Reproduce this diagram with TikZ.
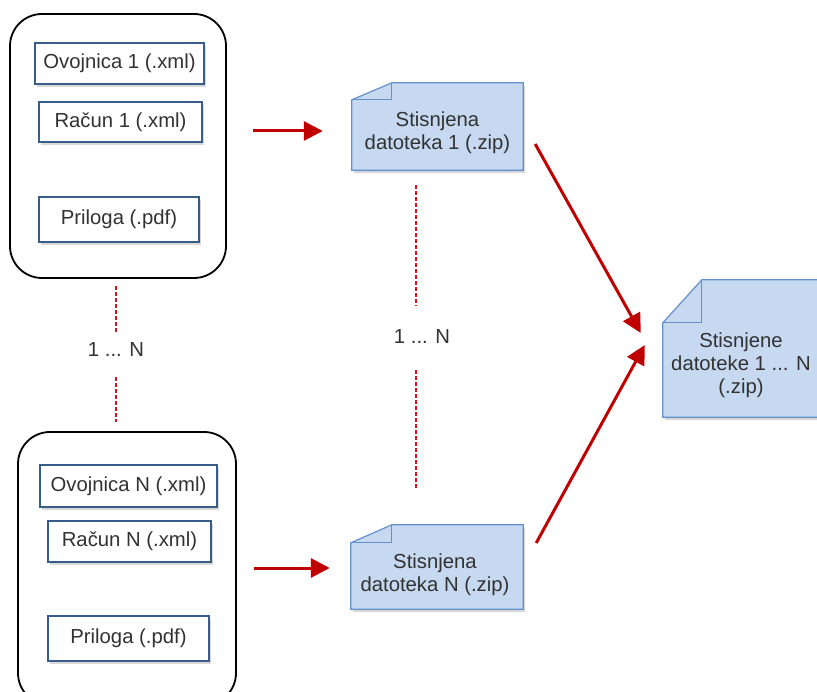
\documentclass[tikz,border=0pt]{standalone}
\usepackage{fontspec}
\setmainfont{Liberation Sans}
\usetikzlibrary{shadows,arrows.meta,calc}
\definecolor{txt}{RGB}{50,50,50}
\definecolor{boxblue}{RGB}{56,93,138}
\definecolor{docfill}{RGB}{198,217,240}
\definecolor{docline}{RGB}{100,145,205}
\definecolor{arrred}{RGB}{192,0,0}
\definecolor{dashred}{RGB}{215,20,30}
\begin{document}
\begin{tikzpicture}[x=1pt,y=-1pt, font=\fontsize{20.3}{23}\selectfont, text=txt,
 container/.style={draw=black, line width=1.8pt, rounded corners=32pt, fill=white, inner sep=0pt},
 filebox/.style={draw=boxblue, line width=1.3pt, fill=white, drop shadow={opacity=0.3, shadow xshift=2pt, shadow yshift=-3pt}, inner sep=0pt},
 docarea/.style={inner sep=0pt},
 doctext/.style={align=center, inner sep=0pt},
 docshape/.style={draw=docline, line width=1.2pt, fill=docfill, drop shadow={opacity=0.3, shadow xshift=2pt, shadow yshift=-3pt}},
 foldline/.style={draw=docline, line width=1.2pt},
 arr/.style={draw=arrred, line width=3pt, -{Triangle[length=19pt,width=19pt]}},
 dashline/.style={draw=dashred, line width=1.7pt, dash pattern=on 4pt off 2pt},
 lbl/.style={inner sep=0pt},
]
\useasboundingbox (0,0) rectangle (817,692);
\fill[white] (0,0) rectangle (817,692);

% containers
\node[container, minimum width=216pt, minimum height=264pt] (c1) at (118,146) {};
\node[container, minimum width=218pt, minimum height=273pt] (cN) at (127,568.5) {};

% file boxes
\node[filebox, minimum width=169pt, minimum height=41pt] (o1) at (119.5,63.5) {Ovojnica 1 (.xml)};
\node[filebox, minimum width=163pt, minimum height=40pt] (r1) at (120.5,122) {Račun 1 (.xml)};
\node[filebox, minimum width=160pt, minimum height=45pt] (p1) at (119,219.5) {Priloga (.pdf)};
\node[filebox, minimum width=177pt, minimum height=42pt] (oN) at (128.5,486) {Ovojnica N (.xml)};
\node[filebox, minimum width=163pt, minimum height=41pt] (rN) at (129.5,541.5) {Račun N (.xml)};
\node[filebox, minimum width=161pt, minimum height=45pt] (pN) at (128.5,638.5) {Priloga (.pdf)};

% documents
\newcommand\mydoc[3]{%
 \path[docshape] ([xshift=#2]#1.north west) -- (#1.north east) -- (#1.south east) -- (#1.south west) -- ([yshift=-#3]#1.north west) -- cycle;
 \draw[foldline] ([xshift=#2]#1.north west) -- ([xshift=#2,yshift=-#3]#1.north west) -- ([yshift=-#3]#1.north west);
}
\node[docarea, minimum width=171pt, minimum height=87pt] (z1) at (437.5,126.5) {};
\node[docarea, minimum width=172pt, minimum height=84pt] (zN) at (437,567) {};
\node[docarea, minimum width=162pt, minimum height=137pt] (f) at (744,348.5) {};
\mydoc{z1}{40pt}{17pt}
\mydoc{zN}{41pt}{18pt}
\mydoc{f}{39pt}{43pt}
\node[doctext] (z1t) at (437.5,133) {Stisnjena\\datoteka 1 (.zip)};
\node[doctext] (zNt) at (435,575) {Stisnjena\\datoteka N (.zip)};
\node[doctext] (ft) at (741,365) {Stisnjene\\datoteke 1 ... N\\(.zip)};

% labels
\node[lbl] (l1) at (116,350) {1 ... N};
\node[lbl] (l2) at (422,337) {1 ... N};

% dashed links
\draw[dashline, shorten <=7pt, shorten >=18pt] (c1.south -| l1) -- (l1.center);
\draw[dashline, shorten <=27pt, shorten >=9pt] (l1.center) -- (l1 |- cN.north);
\draw[dashline, shorten <=15pt, shorten >=31pt] ([xshift=-21.5pt]z1.south) -- ([xshift=-21.5pt]z1.south |- l2);
\draw[dashline, shorten <=33pt, shorten >=35pt] ([xshift=-21.5pt]z1.south |- l2) -- ([xshift=-21.5pt]z1.south |- zN.north);

% arrows
\draw[arr] ([shift={(26pt,15pt)}]c1.east) -- ([shift={(-29pt,-4.5pt)}]z1.west);
\draw[arr] ([shift={(17pt,0.5pt)}]cN.east) -- ([shift={(-21pt,-1pt)}]zN.west);
\draw[arr] ([shift={(12pt,-17.5pt)}]z1.east) -- ([shift={(-22pt,15.5pt)}]f.west);
\draw[arr] ([shift={(13pt,24pt)}]zN.east) -- ([shift={(-18pt,3.5pt)}]f.west);
\end{tikzpicture}
\end{document}
